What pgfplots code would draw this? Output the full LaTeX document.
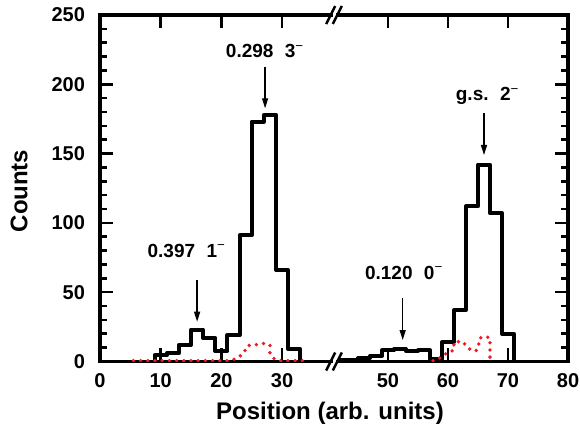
\documentclass[border=0pt]{standalone}
\usepackage{fontspec}
\setmainfont{Liberation Sans}
\usepackage{pgfplots}
\pgfplotsset{compat=1.18}
\usetikzlibrary{arrows.meta}
\definecolor{dotred}{RGB}{237,28,36}
\tikzset{
  arr/.style={line width=0.65pt, -{Triangle[length=5pt,width=3pt]}},
  lab/.style={anchor=base, font=\fontsize{9.5}{11}\selectfont\bfseries},
  frame/.style={line width=1.6pt, line cap=rect, line join=miter},
}
\pgfplotsset{
  brk/.style={
    scale only axis, height=173.25pt, ymin=0, ymax=250,
    ytick={0,50,...,250}, minor y tick num=4,
    axis line style={draw=none},
    tick align=inside,
    tick style={black, line width=1.3pt},
    major tick length=6.5pt, minor tick length=3.5pt,
    xtick pos=both,
    /pgf/number format/assume math mode=true,
    tick label style={font=\fontsize{10}{12}\selectfont\bfseries},
    xticklabel pos=bottom,
    xticklabel style={yshift=-2.4pt},
    yticklabel style={xshift=-4pt},
  },
  hist/.style={black, line width=2pt, line join=round, const plot, no marks},
  reddot/.style={dotred, line width=1.9pt, line cap=round, dash pattern=on 0pt off 3.6pt, no marks},
}
\begin{document}
\begin{tikzpicture}
\begin{axis}[brk, name=L, at={(0,0)}, anchor=south west, width=115.5pt,
  xmin=0, xmax=38.06, xtick={0,10,20,30}, ytick pos=left]
\addplot[hist] coordinates {(9,0) (9,4.5) (11,6) (13,12) (15,23) (17,17) (19,7.5) (21,19) (23,91) (25,173) (27,178) (29,66) (31,9) (33,0)};
\draw[arr] (axis cs:16,58.8) -- (axis cs:16,28.7);
\draw[arr] (axis cs:27.2,212.7) -- (axis cs:27.2,182.7);
\node[lab] at (axis cs:14.3,75) {0.397\hspace{0.6em}1\textsuperscript{\mdseries −}};
\node[lab] at (axis cs:27.2,219.2) {0.298\hspace{0.6em}3\textsuperscript{\mdseries −}};
\end{axis}
\begin{axis}[brk, name=R, at={(119pt,0)}, anchor=south west, width=115pt,
  xmin=41.67, xmax=80, xtick={50,60,70,80}, ytick pos=right, yticklabels={}]
\addplot[hist] coordinates {(41.67,1) (45,2.5) (47,4) (49,8) (51,9) (53,7.5) (55,8) (57,1.5) (59,14) (61,37) (63,112) (65,142) (67,107) (69,20) (71,0)};
\draw[arr] (axis cs:52.45,45.6) -- (axis cs:52.45,15.5);
\draw[arr] (axis cs:66,179) -- (axis cs:66,149);
\node[lab] at (axis cs:52.7,59.3) {0.120\hspace{0.6em}0\textsuperscript{\mdseries −}};
\node[lab] at (axis cs:66.6,188) {g.s.\hspace{0.6em}2\textsuperscript{\mdseries −}};
\end{axis}
\draw[frame] (115.5pt,0pt) -- (0pt,0pt) -- (0pt,173.25pt) -- (115.5pt,173.25pt);
\draw[frame] (119pt,0pt) -- (234pt,0pt) -- (234pt,173.25pt) -- (119pt,173.25pt);
\foreach \k in {1,...,24}{
  \pgfmathsetmacro\yy{6.93*\k}
  \pgfmathsetmacro\len{ifthenelse(mod(\k,5)==0,6.5,3.5)}
  \draw[line width=1.3pt, black] (0pt,\yy pt) -- (\len pt,\yy pt);
  \pgfmathsetmacro\xe{234-\len}
  \draw[line width=1.3pt, black] (234pt,\yy pt) -- (\xe pt,\yy pt);
}
\foreach \x in {30.35,60.69,91.04,144.0,174.0,204.0}{
  \draw[line width=1.3pt, black] (\x pt,0pt) -- (\x pt,4pt);
  \draw[line width=1.3pt, black] (\x pt,173.25pt) -- (\x pt,169.25pt);
}
\begin{axis}[brk, at={(0,0)}, anchor=south west, width=115.5pt,
  xmin=0, xmax=38.06, xtick=\empty, ytick=\empty, minor y tick num=0]
\addplot[reddot] coordinates {(5.5,0.6) (21,0.6) (22,1.5) (23,3.5) (23.9,8) (24.3,11.5) (25.5,12) (26.9,13) (28,12) (28,6) (28.6,2.3) (29.5,0.6) (33.5,0.6)};
\end{axis}
\begin{axis}[brk, at={(119pt,0)}, anchor=south west, width=115pt,
  xmin=41.67, xmax=80, xtick=\empty, ytick=\empty, minor y tick num=0]
\addplot[reddot] coordinates {(57.5,0.6) (58.6,2.5) (59.6,5.5) (61,8.3) (61,14) (62.3,14.5) (63.3,10.6) (63.8,8) (64.8,8) (65.1,12) (65.3,17) (66.2,18) (67,17) (67,0.6)};
\end{axis}
\foreach \y in {0,173.25}{
  \draw[line width=1.25pt] (113.1pt,\y pt-4.5pt) -- (117.6pt,\y pt+4.5pt);
  \draw[line width=1.25pt] (116.4pt,\y pt-4.5pt) -- (120.9pt,\y pt+4.5pt);
}
\node[font=\fontsize{12}{14}\selectfont\bfseries, anchor=base] at (115pt,-29.25pt) {Position (arb. units)};
\node[font=\fontsize{12}{14}\selectfont\bfseries, rotate=90, anchor=center] at (-40.5pt,85.25pt) {Counts};
\pgfresetboundingbox
\path[use as bounding box] (-50pt,-33.75pt) rectangle (240pt,180.75pt);
\end{tikzpicture}
\end{document}
